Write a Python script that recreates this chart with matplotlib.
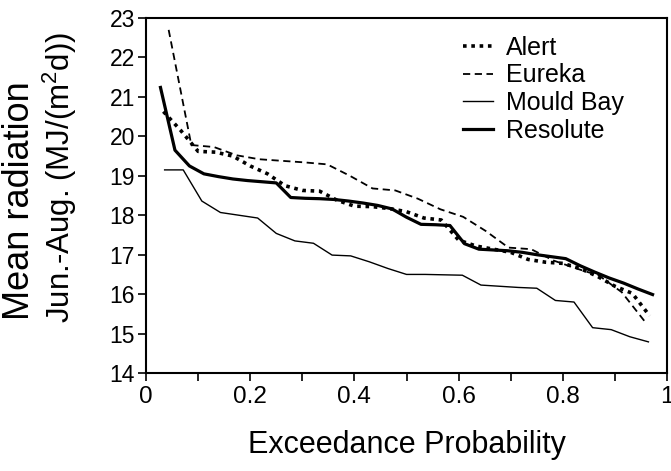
import numpy as np
import matplotlib.pyplot as plt
from matplotlib.ticker import MultipleLocator

plt.rcParams['font.family'] = ['Liberation Sans', 'DejaVu Sans']
plt.rcParams['mathtext.fontset'] = 'custom'
plt.rcParams['mathtext.rm'] = 'Liberation Sans'
plt.rcParams['mathtext.default'] = 'regular'

# mean Jun-Aug radiation, ranked from highest to lowest
alert = [20.63, 20.15, 19.62, 19.60, 19.50, 19.25, 19.05, 18.75, 18.63, 18.61,
         18.38, 18.23, 18.22, 18.17, 18.09, 17.93, 17.88, 17.37, 17.22, 17.14,
         17.06, 16.88, 16.81, 16.78, 16.65, 16.45, 16.20, 16.02, 15.45]
eureka = [22.70, 19.78, 19.73, 19.52, 19.42, 19.38, 19.34, 19.29, 19.00, 18.68,
          18.63, 18.42, 18.15, 17.96, 17.60, 17.18, 17.14, 16.85, 16.65, 16.47,
          16.05, 15.32]
mould_bay = [19.15, 19.15, 18.36, 18.07, 18.00, 17.93, 17.54, 17.35, 17.29, 16.99,
             16.97, 16.82, 16.65, 16.50, 16.50, 16.49, 16.48, 16.23, 16.20, 16.17,
             16.15, 15.84, 15.80, 15.15, 15.10, 14.92, 14.79]
resolute = [21.24, 19.65, 19.25, 19.05, 18.98, 18.92, 18.88, 18.85, 18.82, 18.45,
            18.43, 18.42, 18.40, 18.36, 18.31, 18.25, 18.16, 17.95, 17.77, 17.76,
            17.74, 17.28, 17.14, 17.12, 17.10, 17.06, 17.00, 16.95, 16.90, 16.72,
            16.56, 16.41, 16.28, 16.13, 15.99]

def exceedance(vals):
    # plotting position rank/(n+1)
    n = len(vals)
    return np.arange(1, n + 1) / (n + 1)

fig = plt.figure(figsize=(6.71, 4.71), dpi=100)
ax = fig.add_axes([0.2176, 0.208, 0.7765, 0.7537])

ax.plot(exceedance(alert), alert, color='black', lw=2.6, ls=(0, (1, 1.3)), label='Alert')
ax.plot(exceedance(eureka), eureka, color='black', lw=1.3, ls=(0, (4, 2.5)), label='Eureka')
ax.plot(exceedance(mould_bay), mould_bay, color='black', lw=1.0, label='Mould Bay')
ax.plot(exceedance(resolute), resolute, color='black', lw=2.3, label='Resolute')

ax.set_xlim(0, 1)
ax.set_ylim(14, 23)
ax.set_xticks([0, 0.2, 0.4, 0.6, 0.8, 1.0])
ax.set_xticklabels(['0', '0.2', '0.4', '0.6', '0.8', '1'])
ax.xaxis.set_minor_locator(MultipleLocator(0.1))
ax.yaxis.set_major_locator(MultipleLocator(1))
ax.tick_params(axis='x', which='both', direction='out', length=6, width=1.2, labelsize=17.5)
ax.tick_params(axis='y', direction='out', length=6, width=1.2, labelsize=16.5, pad=2)
for s in ax.spines.values():
    s.set_linewidth(1.5)

ax.set_xlabel('Exceedance Probability', fontsize=22, labelpad=16)

# y label as two lines of slightly different size, like the original
fig.text(20 / 671, 1 - 201 / 471, 'Mean radiation', rotation=90, fontsize=26,
         ha='center', va='center')
fig.text(60 / 671, 1 - 177 / 471, 'Jun.-Aug. (MJ/(m$^2$d))', rotation=90, fontsize=22.5,
         ha='center', va='center')

ax.legend(loc='upper right', frameon=False, fontsize=18, handlelength=1.2,
          handletextpad=0.5, labelspacing=0.15, borderaxespad=0.3,
          bbox_to_anchor=(0.95, 1.0))

fig.savefig('out.png', dpi=100)
